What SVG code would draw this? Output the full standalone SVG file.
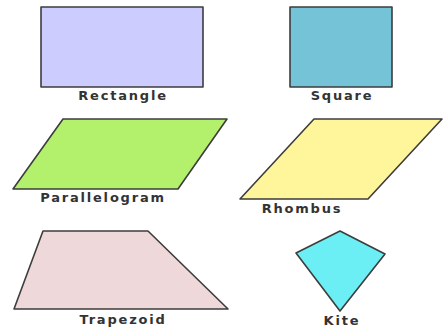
<svg xmlns="http://www.w3.org/2000/svg" width="446" height="329" viewBox="0 0 446 329">
<style>
.s{stroke:#3d3d3d;stroke-width:1.6;stroke-linejoin:round}
.t{font-family:"DejaVu Sans",sans-serif;font-weight:bold;font-size:13px;fill:#333;text-anchor:middle;letter-spacing:1.8px}
</style>
<rect width="446" height="329" fill="#fff"/>
<g id="rectangle">
<rect class="s" x="41" y="7" width="162" height="80" fill="#ccccff"/>
<text class="t" x="123" y="100">Rectangle</text>
</g>
<g id="square">
<rect class="s" x="290" y="7" width="102" height="80" fill="#74c3d6"/>
<text class="t" x="342" y="100">Square</text>
</g>
<g id="parallelogram">
<polygon class="s" points="63,119 227,119 178,189 13,189" fill="#b3f06b"/>
<text class="t" x="103" y="202">Parallelogram</text>
</g>
<g id="rhombus">
<polygon class="s" points="314,119 442,119 368,199 240,199" fill="#fff59b"/>
<text class="t" x="302" y="213">Rhombus</text>
</g>
<g id="trapezoid">
<polygon class="s" points="43,231 148,231 228,309 14,309" fill="#eed8d9"/>
<text class="t" x="123" y="324">Trapezoid</text>
</g>
<g id="kite">
<polygon class="s" points="340,231 385,254 340,311 296,253" fill="#6befF4"/>
<text class="t" x="342" y="325">Kite</text>
</g>
<g id="connectors"/>
</svg>
